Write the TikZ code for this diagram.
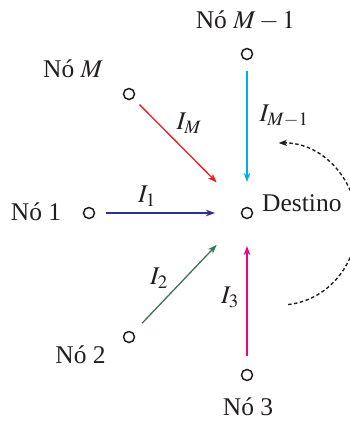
\documentclass[tikz,border=0pt]{standalone}
\usepackage{mathptmx}
\usepackage{fontspec}
\setmainfont{Liberation Serif}
\usetikzlibrary{arrows.meta}
\definecolor{cred}{HTML}{ED1C24}
\definecolor{ccyan}{HTML}{00AEEF}
\definecolor{cblue}{HTML}{2E3192}
\definecolor{cgreen}{HTML}{3A7558}
\definecolor{cmag}{HTML}{EC008C}
\definecolor{ink}{HTML}{231F20}
\begin{document}
\begin{tikzpicture}[x=1pt,y=-1pt,
  font=\fontsize{25.5}{30}\selectfont, text=ink,
  pt/.style={circle,draw=ink,line width=1.5pt,minimum size=11pt,inner sep=0pt,outer sep=0pt},
  lbl/.style={anchor=base,inner sep=0pt},
  cur/.style={inner sep=0pt},
  flow/.style={line width=1.3pt,-{Stealth[length=9pt,width=6.5pt,inset=2.5pt]}}]
\useasboundingbox (0,0) rectangle (350,424);
\clip (0,0) rectangle (350,424);
% points
\node[pt] (dst) at (247,213) {};
\node[pt] (nM1) at (247,54) {};
\node[pt] (nM) at (129,94) {};
\node[pt] (n1) at (89,213) {};
\node[pt] (n2) at (129,337) {};
\node[pt] (n3) at (247,375) {};
% names
\node[lbl] (tM1) at (245.5,28.3) {Nó $M-1$};
\node[lbl] (tM) at (73,77.7) {Nó $M$};
\node[lbl] (t1) at (36,220.7) {Nó 1};
\node[lbl] (t2) at (80.5,363.7) {Nó 2};
\node[lbl] (t3) at (248,415) {Nó 3};
\node[inner sep=0pt,anchor=base west] (tdst) at (262,211.7) {Destino};
% flows
\draw[flow,cred,shorten <=9.5pt,shorten >=37.5pt] (nM) -- (dst);
\draw[flow,ccyan,shorten <=11.5pt,shorten >=25.5pt] (nM1) -- (dst);
\draw[flow,cblue,shorten <=11.5pt,shorten >=26.5pt] (n1) -- (dst);
\draw[flow,cgreen,shorten <=13.5pt,shorten >=38.5pt] (n2) -- (dst);
\draw[flow,cmag,shorten <=13.5pt,shorten >=27.5pt] (n3) -- (dst);
% currents
\node[cur] (iM) at (189,123) {$I_M$};
\node[cur] (iM1) at (284,116) {$I_{M-1}$};
\node[cur] (i1) at (147,196) {$I_1$};
\node[cur] (i2) at (159,278) {$I_2$};
\node[cur] (i3) at (230,297) {$I_3$};
% dashed arc
\coordinate (arcc) at (280,224);
\draw[ink,line width=1.4pt,dash pattern=on 3.5pt off 2.5pt,-{Stealth[length=8pt,width=6pt,inset=2pt]}]
  ([shift={(-84:77pt and 81pt)}]arcc) arc[start angle=-84,end angle=91,x radius=77pt,y radius=81pt];
\end{tikzpicture}
\end{document}
